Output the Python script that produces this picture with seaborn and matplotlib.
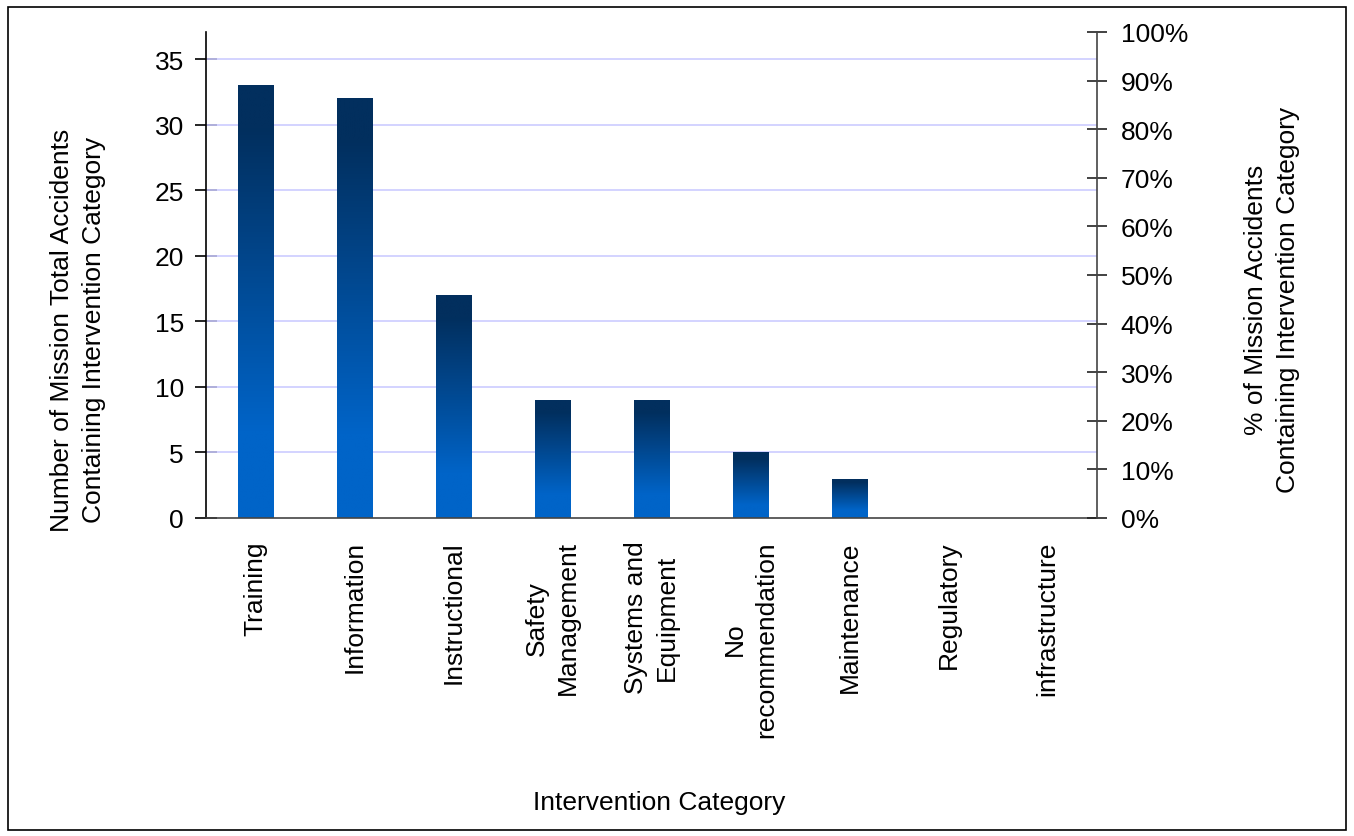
import numpy as np
import pandas as pd
import matplotlib
matplotlib.use("Agg")
import matplotlib.pyplot as plt
import seaborn as sns
from matplotlib.colors import to_rgb
from matplotlib.patches import Rectangle
from matplotlib.ticker import PercentFormatter

categories = ["Training", "Information", "Instructional", "Safety\nManagement",
              "Systems and\nEquipment", "No\nrecommendation", "Maintenance",
              "Regulatory", "infrastructure"]
counts = [33, 32, 17, 9, 9, 5, 3, 0, 0]
pct_ticks = [0, 10, 20, 30, 40, 50, 60, 70, 80, 90, 100]
count_ticks = [0, 5, 10, 15, 20, 25, 30, 35]

sns.set_theme(style="white")
plt.rcParams["font.family"] = ["Liberation Sans", "DejaVu Sans"]
plt.rcParams.update({
    "font.size": 19,
    "text.color": "#000000",
    "axes.labelcolor": "#000000",
    "xtick.color": "#000000",
    "ytick.color": "#000000",
})
FS = 19

df = pd.DataFrame({"category": categories, "count": counts})

fig = plt.figure(figsize=(13.54, 8.37), dpi=100)
ax = fig.add_axes([206 / 1354, 1 - 519 / 837, (1097 - 206) / 1354, (519 - 33) / 837])

sns.barplot(data=df, x="category", y="count", ax=ax, width=0.36,
            color="#0063c6", saturation=1, zorder=3)

ax.set_xlim(-0.5, len(categories) - 0.5)
ax.set_ylim(0, 37.07)
ax.set_yticks(count_ticks)
for v in count_ticks[1:]:
    ax.axhline(v, color="#ccccff", lw=1.2, zorder=1)

# vertical dark-to-bright fill for every bar
dark = np.array(to_rgb("#022f5e"))
light = np.array(to_rgb("#0064c8"))
n = 256
f = np.linspace(0, 1, n)  # 0 = bottom of bar, 1 = top
t = np.clip((f - 0.2) / (0.9 - 0.2), 0, 1)
grad = light[None, :] * (1 - t[:, None]) + dark[None, :] * t[:, None]
grad_img = grad[:, None, :]
for p in list(ax.patches):
    x0, y0 = p.get_x(), p.get_y()
    w, h = p.get_width(), p.get_height()
    if h <= 0:
        continue
    im = ax.imshow(grad_img, extent=(x0, x0 + w, y0, y0 + h), origin="lower",
                   aspect="auto", zorder=3, interpolation="bilinear")
    im.set_clip_path(p)
    p.set_facecolor("none")
    p.set_edgecolor("none")
ax.set_xlim(-0.5, len(categories) - 0.5)
ax.set_ylim(0, 37.07)

# spines
ax.spines["top"].set_visible(False)
ax.spines["right"].set_visible(False)
ax.spines["left"].set_color("#000000")
ax.spines["bottom"].set_color("#444444")
for s in ["left", "bottom"]:
    ax.spines[s].set_linewidth(1.2)
    ax.spines[s].set_zorder(5)

ax.set_xlabel("")
ax.set_ylabel("")
ax.set_xticks(range(len(categories)))
ax.set_xticklabels(categories, rotation=90, va="top", ha="center",
                   multialignment="center", linespacing=1.35)
ax.tick_params(axis="x", which="major", length=0, pad=16, labelsize=FS)
ax.set_xticks(np.arange(-0.5, len(categories), 1.0), minor=True)
ax.tick_params(axis="x", which="minor", direction="inout", length=16,
               width=1.2, color="#222222")
ax.tick_params(axis="y", direction="inout", length=16, width=1.2,
               color="#000000", pad=8, labelsize=FS, left=True)

ax2 = ax.twinx()
ax2.set_ylim(0, 100)
ax2.set_yticks(pct_ticks)
ax2.yaxis.set_major_formatter(PercentFormatter(decimals=0))
ax2.tick_params(axis="y", direction="inout", length=14, width=1.2,
                color="#222222", pad=10, labelsize=FS, right=True)
for s in ["top", "left", "bottom"]:
    ax2.spines[s].set_visible(False)
ax2.spines["right"].set_color("#444444")
ax2.spines["right"].set_linewidth(1.2)
ax2.grid(False)

fig.text(78 / 1354, 1 - 330 / 837,
         "Number of Mission Total Accidents\nContaining Intervention Category",
         rotation=90, ha="center", va="center", fontsize=FS,
         multialignment="center", linespacing=1.45)
fig.text(1272 / 1354, 1 - 300 / 837,
         "% of Mission Accidents\nContaining Intervention Category",
         rotation=90, ha="center", va="center", fontsize=FS,
         multialignment="center", linespacing=1.45)
fig.text(659 / 1354, 1 - 803 / 837, "Intervention Category",
         ha="center", va="center", fontsize=FS)

fig.patches.append(Rectangle((8 / 1354, 1 - 831 / 837), 1338 / 1354, 823 / 837,
                             transform=fig.transFigure, fill=False,
                             edgecolor="#000000", lw=1.2))

fig.savefig("out.png", dpi=100)
